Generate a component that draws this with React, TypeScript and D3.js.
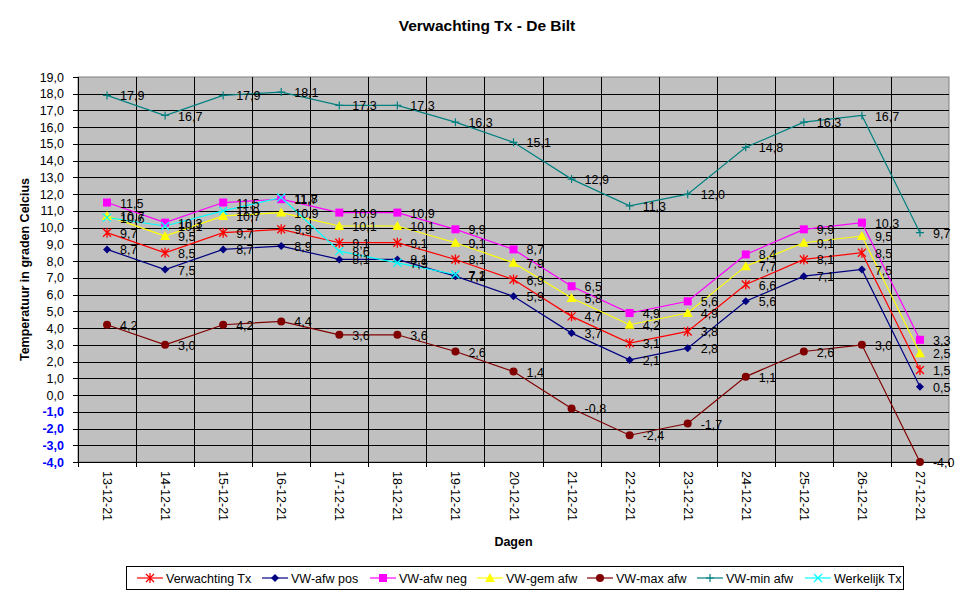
import React, { useEffect, useRef } from "react";
import * as d3 from "d3";

const categories = ["13-12-21","14-12-21","15-12-21","16-12-21","17-12-21","18-12-21","19-12-21","20-12-21","21-12-21","22-12-21","23-12-21","24-12-21","25-12-21","26-12-21","27-12-21"];

const verwachting = [9.7, 8.5, 9.7, 9.9, 9.1, 9.1, 8.1, 6.9, 4.7, 3.1, 3.8, 6.6, 8.1, 8.5, 1.5];
const afwPos = [8.7, 7.5, 8.7, 8.9, 8.1, 8.1, 7.1, 5.9, 3.7, 2.1, 2.8, 5.6, 7.1, 7.5, 0.5];
const afwNeg = [11.5, 10.3, 11.5, 11.7, 10.9, 10.9, 9.9, 8.7, 6.5, 4.9, 5.6, 8.4, 9.9, 10.3, 3.3];
const gemAfw = [10.7, 9.5, 10.7, 10.9, 10.1, 10.1, 9.1, 7.9, 5.8, 4.2, 4.9, 7.7, 9.1, 9.5, 2.5];
const maxAfw = [4.2, 3.0, 4.2, 4.4, 3.6, 3.6, 2.6, 1.4, -0.8, -2.4, -1.7, 1.1, 2.6, 3.0, -4.0];
const minAfw = [17.9, 16.7, 17.9, 18.1, 17.3, 17.3, 16.3, 15.1, 12.9, 11.3, 12.0, 14.8, 16.3, 16.7, 9.7];
const werkelijk: (number | null)[] = [10.6, 10.1, 11.0, 11.8, 8.6, 7.9, 7.2, null, null, null, null, null, null, null, null];

const yTicks = d3.range(-4, 20, 1);

type Series = { name: string; values: (number | null)[]; color: string; marker: string };
const series: Series[] = [
  { name: "Verwachting Tx", values: verwachting, color: "#FF0000", marker: "asterisk" },
  { name: "VW-afw pos", values: afwPos, color: "#000080", marker: "diamond" },
  { name: "VW-afw neg", values: afwNeg, color: "#FF00FF", marker: "square" },
  { name: "VW-gem afw", values: gemAfw, color: "#FFFF00", marker: "triangle" },
  { name: "VW-max afw", values: maxAfw, color: "#800000", marker: "circle" },
  { name: "VW-min afw", values: minAfw, color: "#008080", marker: "plus" },
  { name: "Werkelijk Tx", values: werkelijk, color: "#00FFFF", marker: "times" },
];

const fmt = (v: number) => v.toFixed(1).replace(".", ",");

function drawMarker(g: any, type: string, x: number, y: number, color: string) {
  const m = g.append("g").attr("transform", `translate(${x},${y})`);
  if (type === "asterisk") {
    const r = 4;
    m.append("path").attr("d", `M${-r},${-r}L${r},${r}M${-r},${r}L${r},${-r}M0,${-r - 1}L0,${r + 1}`).attr("stroke", color).attr("stroke-width", 1.3).attr("fill", "none");
  } else if (type === "diamond") {
    const r = 4;
    m.append("path").attr("d", `M0,${-r}L${r},0L0,${r}L${-r},0Z`).attr("fill", color);
  } else if (type === "square") {
    m.append("rect").attr("x", -4).attr("y", -4).attr("width", 8).attr("height", 8).attr("fill", color);
  } else if (type === "triangle") {
    m.append("path").attr("d", `M0,-5L5,4L-5,4Z`).attr("fill", color);
  } else if (type === "circle") {
    m.append("circle").attr("r", 4).attr("fill", color);
  } else if (type === "plus") {
    m.append("path").attr("d", `M-4,0L4,0M0,-4L0,4`).attr("stroke", color).attr("stroke-width", 1.2).attr("fill", "none");
  } else if (type === "times") {
    m.append("path").attr("d", `M-4,-4L4,4M-4,4L4,-4`).attr("stroke", color).attr("stroke-width", 1.3).attr("fill", "none");
  }
}

export default function App() {
  const ref = useRef<SVGSVGElement>(null);
  useEffect(() => {
    const svg = d3.select(ref.current!);
    svg.selectAll("*").remove();
    const W = 976, H = 600;
    const L = 78, R = 949, T = 77, B = 462;
    const font = "Arial, 'Liberation Sans', sans-serif";

    const x = d3.scaleBand<string>().domain(categories).range([L, R]).paddingInner(0).paddingOuter(0);
    const y = d3.scaleLinear().domain([-4, 19]).range([B, T]);
    const cx = (c: string) => (x(c) as number) + x.bandwidth() / 2;

    svg.append("rect").attr("width", W).attr("height", H).attr("fill", "#fff");

    svg.append("text").attr("x", 487).attr("y", 31).attr("text-anchor", "middle")
      .attr("font-family", font).attr("font-weight", "bold").attr("font-size", 15.5).text("Verwachting Tx - De Bilt");

    svg.append("rect").attr("x", L).attr("y", T).attr("width", R - L).attr("height", B - T).attr("fill", "#C0C0C0").attr("stroke", "#808080").attr("stroke-width", 1);

    const grid = svg.append("g").attr("shape-rendering", "crispEdges");
    yTicks.forEach((t) => {
      if (t === -4 || t === 19) return;
      grid.append("line").attr("x1", L).attr("x2", R).attr("y1", Math.round(y(t)) + 0.5).attr("y2", Math.round(y(t)) + 0.5).attr("stroke", "#000").attr("stroke-width", 1);
    });
    categories.forEach((c, i) => {
      if (i === 0) return;
      const xx = Math.round(x(c) as number) + 0.5;
      grid.append("line").attr("x1", xx).attr("x2", xx).attr("y1", T).attr("y2", B).attr("stroke", "#000");
    });

    const ax = svg.append("g").attr("shape-rendering", "crispEdges");
    ax.append("line").attr("x1", L + 0.5).attr("x2", L + 0.5).attr("y1", T).attr("y2", B).attr("stroke", "#000");
    ax.append("line").attr("x1", L).attr("x2", R).attr("y1", B + 0.5).attr("y2", B + 0.5).attr("stroke", "#000");
    yTicks.forEach((t) => {
      const yy = Math.round(y(t)) + 0.5;
      ax.append("line").attr("x1", L - 5).attr("x2", L).attr("y1", yy).attr("y2", yy).attr("stroke", "#000");
      svg.append("text").attr("x", L - 14).attr("y", y(t) + 4.5).attr("text-anchor", "end")
        .attr("font-family", font).attr("font-size", 12.5)
        .attr("fill", t < 0 ? "#0000FF" : "#000")
        .attr("font-weight", t < 0 ? "bold" : "normal")
        .text(fmt(t));
    });
    const bounds = categories.map((c) => x(c) as number).concat([R]);
    bounds.forEach((b) => {
      const xx = Math.round(b) + 0.5;
      ax.append("line").attr("x1", xx).attr("x2", xx).attr("y1", B).attr("y2", B + 5).attr("stroke", "#000");
    });
    categories.forEach((c) => {
      svg.append("text").attr("transform", `translate(${cx(c)},${B + 9}) rotate(90)`)
        .attr("dominant-baseline", "central").attr("font-family", font).attr("font-size", 12.5).text(c);
    });

    svg.append("text").attr("transform", `translate(29,${(T + B) / 2}) rotate(-90)`).attr("text-anchor", "middle")
      .attr("font-family", font).attr("font-weight", "bold").attr("font-size", 12.5).text("Temperatuur in graden Celcius");
    svg.append("text").attr("x", (L + R) / 2).attr("y", 546).attr("text-anchor", "middle")
      .attr("font-family", font).attr("font-weight", "bold").attr("font-size", 12.5).text("Dagen");

    const lg = svg.append("g");
    const mg = svg.append("g");
    const tg = svg.append("g");
    series.forEach((s) => {
      const line = d3.line<number | null>()
        .defined((v) => v !== null)
        .x((_, i) => cx(categories[i]))
        .y((v) => y(v as number));
      lg.append("path").attr("d", line(s.values)).attr("fill", "none").attr("stroke", s.color).attr("stroke-width", 1.2);
    });
    series.forEach((s) => {
      s.values.forEach((v, i) => {
        if (v === null) return;
        drawMarker(mg, s.marker, cx(categories[i]), y(v), s.color);
      });
    });
    series.forEach((s) => {
      s.values.forEach((v, i) => {
        if (v === null) return;
        tg.append("text").attr("x", cx(categories[i]) + 13).attr("y", y(v) + 5)
          .attr("font-family", font).attr("font-size", 12.5).attr("fill", "#000").text(fmt(v));
      });
    });

    const legX = 126, legY = 566, legW = 777, legH = 23;
    svg.append("rect").attr("x", legX + 0.5).attr("y", legY + 0.5).attr("width", legW).attr("height", legH)
      .attr("fill", "#fff").attr("stroke", "#000").attr("shape-rendering", "crispEdges");
    const legStarts = [137, 262, 370, 477, 587, 697, 805];
    series.forEach((s, i) => {
      const lx = legStarts[i];
      const ly = legY + legH / 2 + 0.5;
      svg.append("line").attr("x1", lx).attr("x2", lx + 26).attr("y1", ly).attr("y2", ly).attr("stroke", s.color).attr("stroke-width", 1.2);
      drawMarker(svg, s.marker, lx + 13, ly, s.color);
      svg.append("text").attr("x", lx + 29).attr("y", ly + 4.5).attr("font-family", font).attr("font-size", 12.5).text(s.name);
    });
  }, []);
  return (
    <div style={{ position: "absolute", left: 0, top: 0 }}>
      <svg ref={ref} width={976} height={600} style={{ display: "block" }} />
    </div>
  );
}
